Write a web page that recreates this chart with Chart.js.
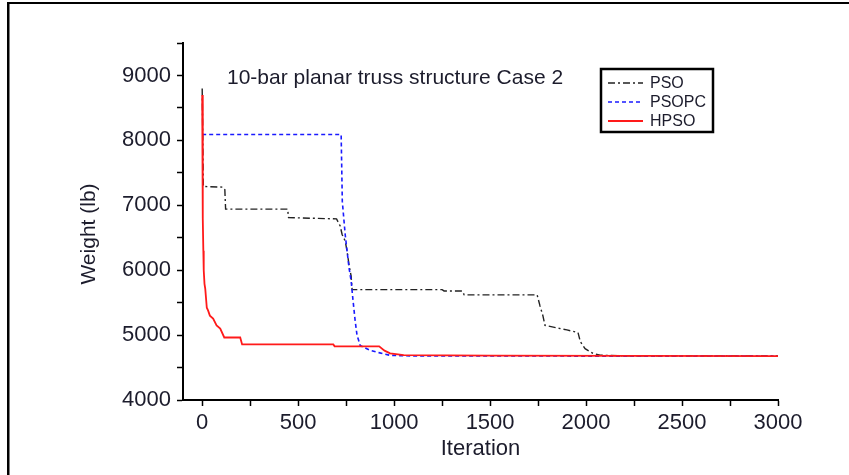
<!DOCTYPE html>
<html>
<head>
<meta charset="utf-8">
<script src="https://cdn.jsdelivr.net/npm/chart.js@4.4.1/dist/chart.umd.min.js"></script>
<style>
  body { margin: 0; background: #fff; }
  canvas { display: block; }
</style>
</head>
<body>
<canvas id="lineChart" width="849" height="475"></canvas>
<script>
// best weight (lb) against iteration
const psoIter = [0, 6, 105, 112, 118, 122, 445, 450, 700, 719, 729, 745, 755, 766, 776, 781, 1250, 1260, 1355, 1365, 1745, 1760, 1775, 1786, 1850, 1900, 1958, 1970, 1995, 2036, 2073, 2200, 3000];
const psoWeight = [8800, 7290, 7280, 7250, 7240, 6940, 6940, 6810, 6790, 6680, 6550, 6450, 6290, 6060, 5910, 5700, 5700, 5680, 5680, 5620, 5620, 5450, 5300, 5150, 5110, 5080, 5040, 4900, 4790, 4720, 4690, 4680, 4680];

const psopcIter = [0, 724, 730, 745, 765, 776, 786, 797, 807, 815, 823, 850, 875, 920, 979, 1100, 3000];
const psopcWeight = [8090, 8090, 7060, 6550, 6035, 5835, 5530, 5220, 4990, 4920, 4840, 4800, 4765, 4730, 4688, 4678, 4675];

const hpsoIter = [0, 2, 4, 6, 8, 12, 16, 24, 31, 40, 57, 75, 94, 115, 198, 208, 683, 690, 922, 950, 979, 1050, 1500, 3000];
const hpsoWeight = [8700, 7500, 6800, 6300, 6000, 5790, 5713, 5422, 5376, 5300, 5254, 5150, 5100, 4963, 4963, 4856, 4856, 4826, 4826, 4760, 4719, 4690, 4685, 4677];

const xTickValues = [0, 250, 500, 750, 1000, 1250, 1500, 1750, 2000, 2250, 2500, 2750, 3000];
const yTickValues = [4000, 4500, 5000, 5500, 6000, 6500, 7000, 7500, 8000, 8500, 9000, 9500];

const seriesNames = ["PSO", "PSOPC", "HPSO"];
const chartTitle = "10-bar planar truss structure Case 2";
const xTitle = "Iteration";
const yTitle = "Weight (lb)";

const FONT = "'Liberation Sans', Arial, sans-serif";
const TEXT = "#1c1c2c";

const toPoints = (xs, ys) => xs.map((x, i) => ({ x: x, y: ys[i] }));

// frame, title, y title and the boxed legend
const extras = {
  id: "extras",
  beforeDraw(chart) {
    const c = chart.ctx;
    c.save();
    c.fillStyle = "#000";
    c.fillRect(7, 2, 842, 2);
    c.fillRect(7, 2, 2.5, 473);
    c.restore();
  },
  afterDraw(chart) {
    const c = chart.ctx;
    c.save();
    c.fillStyle = TEXT;
    c.font = "21px " + FONT;
    c.textBaseline = "middle";
    c.textAlign = "left";
    c.fillText(chartTitle, 227, 78);

    c.save();
    c.translate(89, 234);
    c.rotate(-Math.PI / 2);
    c.textAlign = "center";
    c.font = "21px " + FONT;
    c.fillText(yTitle, 0, 0);
    c.restore();

    c.strokeStyle = "#000";
    c.lineWidth = 2.5;
    c.strokeRect(601, 69, 112, 63);
    c.font = "16px " + FONT;
    const rows = [83, 102, 121];
    chart.data.datasets.forEach((ds, i) => {
      c.beginPath();
      c.strokeStyle = ds.borderColor;
      c.lineWidth = ds.borderWidth;
      c.setLineDash(ds.borderDash || []);
      c.moveTo(608, rows[i]);
      c.lineTo(643, rows[i]);
      c.stroke();
      c.setLineDash([]);
      c.fillStyle = TEXT;
      c.fillText(ds.label, 650, rows[i] + 1);
    });
    c.restore();
  }
};

const ctx = document.getElementById("lineChart");
new Chart(ctx, {
  type: "line",
  data: {
    datasets: [
      {
        label: seriesNames[0],
        data: toPoints(psoIter, psoWeight),
        borderColor: "#222",
        borderWidth: 1.4,
        borderDash: [7, 3, 2, 3],
        pointRadius: 0,
        order: 3
      },
      {
        label: seriesNames[1],
        data: toPoints(psopcIter, psopcWeight),
        borderColor: "#1a1aff",
        borderWidth: 1.6,
        borderDash: [4, 3],
        pointRadius: 0,
        order: 2
      },
      {
        label: seriesNames[2],
        data: toPoints(hpsoIter, hpsoWeight),
        borderColor: "#ff1a1a",
        borderWidth: 1.8,
        pointRadius: 0,
        order: 1
      }
    ]
  },
  options: {
    responsive: false,
    animation: false,
    devicePixelRatio: 1,
    layout: { padding: { left: 0, top: 43, right: 71, bottom: 0 } },
    plugins: {
      legend: { display: false },
      tooltip: { enabled: false }
    },
    scales: {
      x: {
        type: "linear",
        min: -100,
        max: 3000,
        afterBuildTicks: (scale) => { scale.ticks = xTickValues.map((v) => ({ value: v })); },
        afterFit: (scale) => { scale.height = 75; },
        grid: { drawOnChartArea: false, drawTicks: true, tickLength: 6, tickColor: "#000", tickWidth: 1.5 },
        border: { display: true, color: "#000", width: 2 },
        ticks: {
          autoSkip: false,
          maxRotation: 0,
          padding: 4,
          color: TEXT,
          font: { family: FONT, size: 22 },
          callback: (v) => (v % 500 === 0 ? String(v) : "")
        },
        title: {
          display: true,
          text: xTitle,
          color: TEXT,
          font: { family: FONT, size: 22 },
          padding: { top: 0, bottom: 13 }
        }
      },
      y: {
        min: 4000,
        max: 9500,
        afterBuildTicks: (scale) => { scale.ticks = yTickValues.map((v) => ({ value: v })); },
        afterFit: (scale) => { scale.width = 183; },
        grid: { drawOnChartArea: false, drawTicks: true, tickLength: 6, tickColor: "#000", tickWidth: 1.5 },
        border: { display: true, color: "#000", width: 2 },
        ticks: {
          autoSkip: false,
          padding: 6,
          color: TEXT,
          font: { family: FONT, size: 22 },
          callback: (v) => (v % 1000 === 0 ? String(v) : "")
        }
      }
    }
  },
  plugins: [extras]
});
</script>
</body>
</html>
